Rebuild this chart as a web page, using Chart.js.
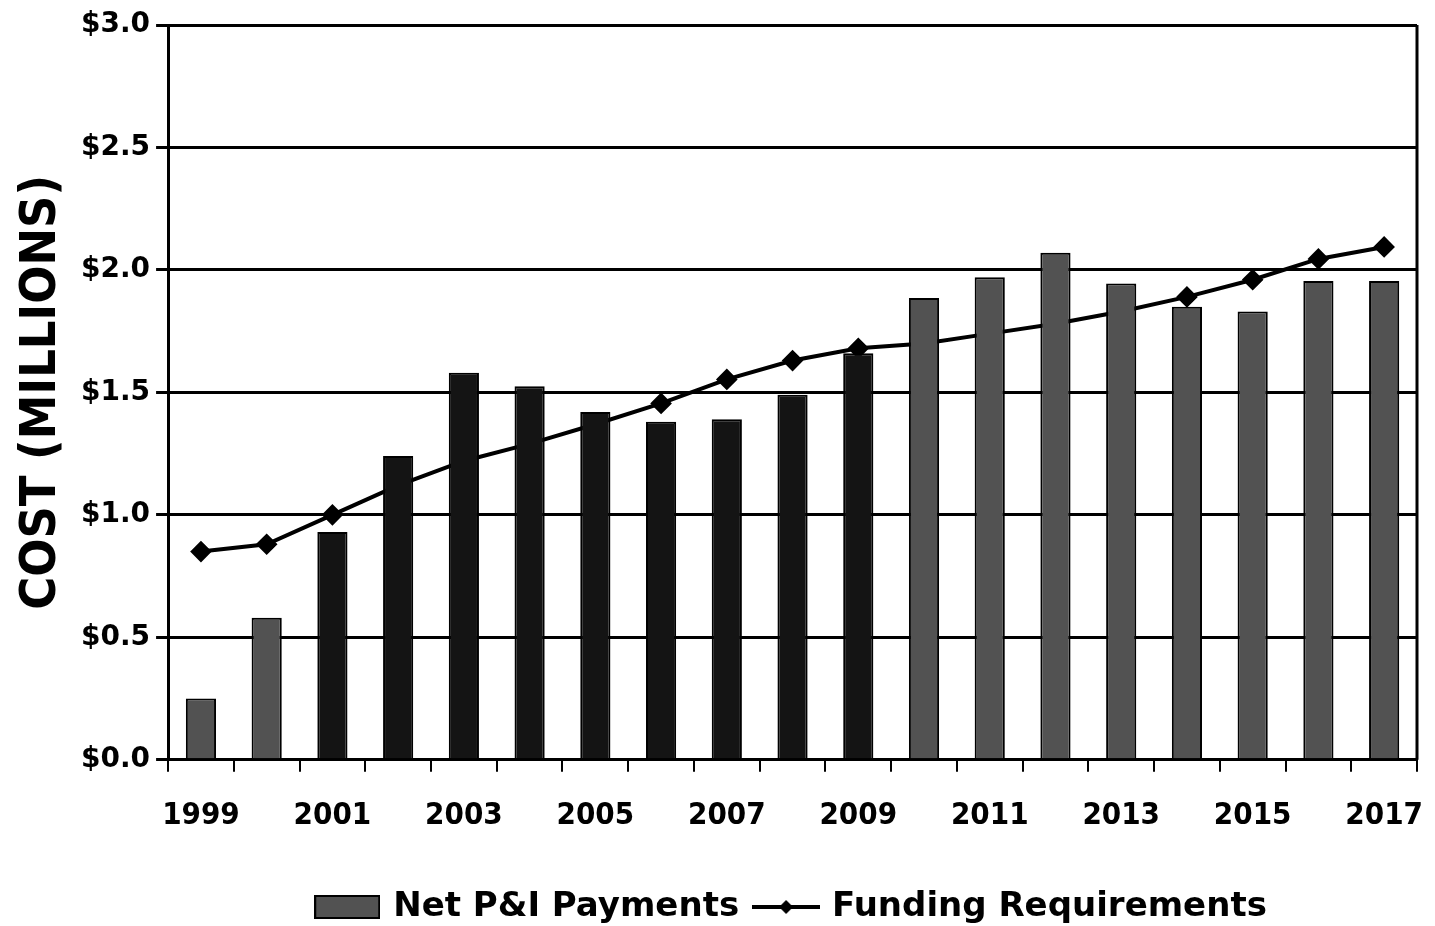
<!DOCTYPE html>
<html>
<head>
<meta charset="utf-8">
<script src="https://cdn.jsdelivr.net/npm/chart.js@4.4.0/dist/chart.umd.min.js"></script>
<style>
  html, body { margin: 0; padding: 0; background: #fff; }
  #wrap { width: 1435px; height: 926px; }
</style>
</head>
<body>
<div id="wrap"><canvas id="myChart" width="1435" height="926"></canvas></div>
<script>
// chart data
const years = ['1999','2000','2001','2002','2003','2004','2005','2006','2007','2008',
               '2009','2010','2011','2012','2013','2014','2015','2016','2017'];
const netPIPayments = [0.25, 0.58, 0.93, 1.24, 1.58, 1.525, 1.42, 1.38, 1.39, 1.49,
                       1.66, 1.885, 1.97, 2.07, 1.945, 1.85, 1.83, 1.955, 1.955];
const fundingRequirements = [0.85, 0.88, 1.00, 1.12, 1.22, 1.29, 1.37, 1.455, 1.553, 1.63,
                             1.68, 1.70, 1.74, 1.78, 1.83, 1.89, 1.96, 2.045, 2.094];
const yTicks = ['$0.0', '$0.5', '$1.0', '$1.5', '$2.0', '$2.5', '$3.0'];

const GREY = '#525252';
const DARK = '#141414';
const FONT = "'DejaVu Sans Condensed', 'DejaVu Sans', sans-serif";

// bars for 2001-2009 look nearly black in the scan
const barColors = years.map(function(y) {
  let n = parseInt(y, 10);
  return (n >= 2001 && n <= 2009) ? DARK : GREY;
});

// legend swatches
function barSwatch() {
  let c = document.createElement('canvas');
  c.width = 66; c.height = 24;
  let g = c.getContext('2d');
  g.fillStyle = GREY;
  g.fillRect(1, 1, 64, 22);
  g.strokeStyle = '#000';
  g.lineWidth = 2;
  g.strokeRect(1, 1, 64, 22);
  return c;
}
function lineSwatch() {
  let c = document.createElement('canvas');
  c.width = 68; c.height = 20;
  let g = c.getContext('2d');
  g.strokeStyle = '#000';
  g.lineWidth = 4;
  g.beginPath(); g.moveTo(0, 10); g.lineTo(68, 10); g.stroke();
  g.fillStyle = '#000';
  g.beginPath();
  g.moveTo(34, 3); g.lineTo(41, 10); g.lineTo(34, 17); g.lineTo(27, 10);
  g.closePath(); g.fill();
  return c;
}

// frame around the plot area (right side) + nudge legend down
const framePlugin = {
  id: 'frame',
  afterLayout(chart) {
    chart.legend.top += 8;
    chart.legend.bottom += 8;
  },
  afterDraw(chart) {
    let a = chart.chartArea, ctx = chart.ctx;
    ctx.save();
    ctx.strokeStyle = '#000';
    ctx.lineWidth = 3;
    ctx.beginPath();
    ctx.moveTo(a.right, a.top);
    ctx.lineTo(a.right, a.bottom);
    ctx.stroke();
    ctx.restore();
  }
};

let ctx = document.getElementById('myChart').getContext('2d');
let chart = new Chart(ctx, {
  type: 'bar',
  data: {
    labels: years,
    datasets: [{
      type: 'bar',
      label: 'Net P&I Payments',
      data: netPIPayments,
      backgroundColor: barColors,
      borderColor: '#000',
      borderWidth: 2,
      categoryPercentage: 0.9,
      barPercentage: 0.51,
      order: 1
    }, {
      type: 'line',
      label: 'Funding Requirements',
      data: fundingRequirements,
      borderColor: '#000',
      borderWidth: 4,
      pointStyle: 'rectRot',
      pointRadius: 8,
      pointBackgroundColor: '#000',
      pointBorderColor: '#000',
      tension: 0,
      order: 2
    }]
  },
  options: {
    responsive: false,
    animation: false,
    layout: { padding: { top: 25, right: 18, left: 12, bottom: 0 } },
    plugins: {
      tooltip: { enabled: false },
      legend: {
        position: 'bottom',
        fullSize: false,
        labels: {
          usePointStyle: true,
          pointStyleWidth: 58,
          padding: 18,
          color: '#000',
          font: { family: "'DejaVu Sans', sans-serif", size: 34, weight: 'bold' },
          generateLabels: function() {
            return [
              { text: 'Net P&I Payments', pointStyle: barSwatch(), fillStyle: GREY, strokeStyle: '#000', lineWidth: 0, datasetIndex: 0 },
              { text: 'Funding Requirements', pointStyle: lineSwatch(), fillStyle: '#000', strokeStyle: '#000', lineWidth: 0, datasetIndex: 1 }
            ];
          }
        }
      }
    },
    scales: {
      x: {
        offset: true,
        afterFit: function(scale) {
          scale.height += 3;
          scale.paddingLeft = 0;
          scale.paddingRight = 0;
        },
        grid: {
          offset: true,
          drawOnChartArea: false,
          drawTicks: true,
          tickLength: 12,
          color: '#000',
          lineWidth: 2
        },
        border: { color: '#000', width: 3 },
        ticks: {
          autoSkip: false,
          maxRotation: 0,
          color: '#000',
          padding: 26,
          font: { family: FONT, size: 31, weight: 'bold' },
          callback: function(v, i) { return i % 2 === 0 ? years[i] : ''; }
        }
      },
      y: {
        min: 0,
        max: 3,
        grid: {
          color: '#000',
          lineWidth: 3,
          tickLength: 12
        },
        border: { color: '#000', width: 3 },
        ticks: {
          stepSize: 0.5,
          color: '#000',
          padding: 6,
          font: { family: "'DejaVu Sans', sans-serif", size: 28, weight: 'bold' },
          callback: function(v) { return yTicks[Math.round(v * 2)]; }
        },
        title: {
          display: true,
          text: 'COST (MILLIONS)',
          color: '#000',
          padding: { top: 0, bottom: 3 },
          font: { family: FONT, size: 50, weight: 'bold' }
        }
      }
    }
  },
  plugins: [framePlugin]
});
</script>
</body>
</html>
